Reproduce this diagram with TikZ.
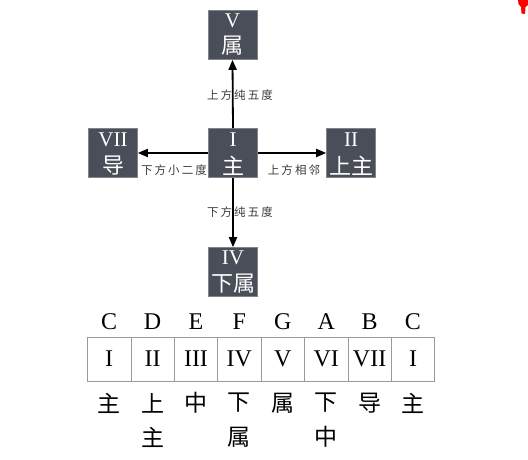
\documentclass[tikz,border=0pt]{standalone}
\usepackage{fontspec}
\setmainfont{Liberation Serif}
\newfontfamily\cjk{Noto Sans CJK SC}
\newfontfamily\cjklbl[LetterSpace=18]{Noto Sans CJK SC}
\usetikzlibrary{arrows.meta}
\definecolor{boxgray}{HTML}{4A4E58}
\definecolor{lblgray}{HTML}{3A3A3A}
\definecolor{cellline}{HTML}{9A9A9A}
\tikzset{
  keybox/.style={fill=boxgray, draw=boxgray!70, line width=0.6pt, minimum width=49pt, minimum height=49pt, inner sep=0pt},
  boxrn/.style={text=white, font=\fontsize{21}{21}\selectfont, inner sep=0pt},
  boxcn/.style={text=white, font=\cjk\fontsize{22}{22}\selectfont, inner sep=0pt},
  arr/.style={line width=1.8pt, -{Triangle[length=10pt,width=8pt]}},
  lbl/.style={text=lblgray, font=\cjklbl\fontsize{11.5}{11.5}\selectfont, inner sep=0pt},
  cell/.style={draw=cellline, line width=0.8pt, minimum width=43.4pt, minimum height=44pt, inner sep=0pt, font=\fontsize{24}{24}\selectfont},
  note/.style={font=\fontsize{24}{24}\selectfont, inner sep=0pt},
  cn/.style={font=\cjk\fontsize{23}{23}\selectfont, inner sep=0pt}
}
\begin{document}
\begin{tikzpicture}[x=1pt,y=-1pt]
\useasboundingbox (0,0) rectangle (528,460);
% boxes
\node[keybox] (V) at (232.5,35) {};
\node[keybox] (I) at (233,153) {};
\node[keybox] (VII) at (113,153) {};
\node[keybox] (II) at (351,153) {};
\node[keybox] (IV) at (233,272) {};
\node[boxrn] (tV) at (232.5,21) {V};
\node[boxcn] (cV) at (232.5,46) {属};
\node[boxrn] (tI) at (233,140) {I};
\node[boxcn] (cI) at (233,166) {主};
\node[boxrn] (tVII) at (113,140) {VII};
\node[boxcn] (cVII) at (113,166) {导};
\node[boxrn] (tII) at (351,140) {II};
\node[boxcn] (cII) at (351,166) {上主};
\node[boxrn] (tIV) at (233,258) {IV};
\node[boxcn] (cIV) at (233,284) {下属};
% arrows
\draw[arr] (I.north) -- (V.south);
\draw[arr] (I.south) -- (IV.north);
\draw[arr] (I.west) -- (VII.east);
\draw[arr] (I.east) -- (II.west);
\node[lbl] (l1) at (240,95) {上方纯五度};
\node[lbl] (l2) at (240,212) {下方纯五度};
\node[lbl] (l3) at (174,170) {下方小二度};
\node[lbl] (l4) at (294,170) {上方相邻};
% table
\foreach \i/\n/\r/\c/\d in {0/C/I/主/,1/D/II/上/主,2/E/III/中/,3/F/IV/下/属,4/G/V/属/,5/A/VI/下/中,6/B/VII/导/,7/C/I/主/}{
  \node[cell] (cell\i) at ({87.5+21.7+43.4*\i},359) {\r};
  \node[note] (n\i) at (cell\i.center |- 0,322) {\n};
  \node[cn] (ca\i) at (cell\i.center |- 0,403) {\c};
  \node[cn] (cb\i) at (cell\i.center |- 0,437) {\d};
}
% red mark
\fill[red] (518,0) -- (528,0) -- (528,5) -- (525.5,7) -- (525,14) -- (521.5,13.5) -- (521,7) -- (518.5,4) -- cycle;
\end{tikzpicture}
\end{document}
